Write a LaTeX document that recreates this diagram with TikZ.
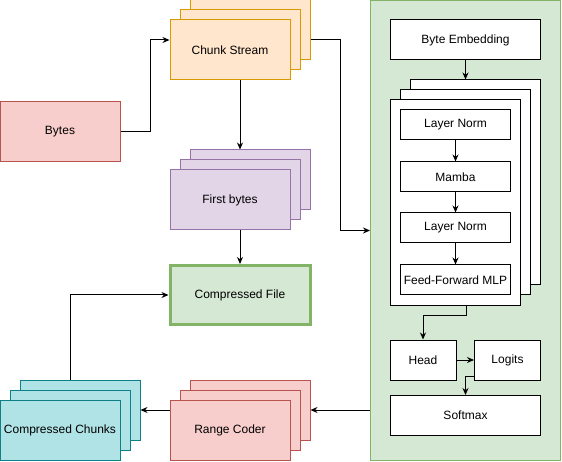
\documentclass[tikz,border=0pt]{standalone}
\usepackage{fontspec}
\setmainfont{Liberation Sans}
\usepackage{tikz}
\usetikzlibrary{arrows.meta}

\definecolor{orngfill}{HTML}{FFE6CC}
\definecolor{orngline}{HTML}{D79B00}
\definecolor{purpfill}{HTML}{E1D5E7}
\definecolor{purpline}{HTML}{9673A6}
\definecolor{redfill}{HTML}{F8CECC}
\definecolor{redline}{HTML}{B85450}
\definecolor{grnfill}{HTML}{D5E8D4}
\definecolor{grnline}{HTML}{82B366}
\definecolor{cyanfill}{HTML}{B0E3E6}
\definecolor{cyanline}{HTML}{0E8088}

\begin{document}
\begin{tikzpicture}[x=1pt, y=-1pt, font=\fontsize{12}{14}\selectfont,
  blk/.style={draw, line width=1pt, inner sep=0pt, minimum width=120pt, minimum height=60pt},
  orng/.style={blk, fill=orngfill, draw=orngline},
  purp/.style={blk, fill=purpfill, draw=purpline},
  redb/.style={blk, fill=redfill, draw=redline},
  cyan/.style={blk, fill=cyanfill, draw=cyanline},
  wbox/.style={draw, line width=1pt, fill=white, inner sep=0pt},
  layer/.style={wbox, minimum width=110pt, minimum height=30pt},
  stk/.style={wbox, minimum width=130pt, minimum height=205pt},
  arr/.style={draw, line width=1pt, -{Stealth[length=7pt,width=6pt]}}]

\useasboundingbox (0,0) rectangle (562,462);

\node[redb] (bytes) at (60,132) {Bytes};

\node[orng] (cs3) at (250,30) {};
\node[orng] (cs2) at (240,40) {};
\node[orng] (cs1) at (230,50) {Chunk Stream};

\node[purp] (fb3) at (250,180) {};
\node[purp] (fb2) at (240,190) {};
\node[purp] (fb1) at (230,200) {First bytes};

\node[draw=grnline, fill=grnfill, line width=3pt, inner sep=0pt, minimum width=140pt, minimum height=59pt] (cf) at (240,295) {Compressed File};

\node[redb] (rc3) at (250,410) {};
\node[redb] (rc2) at (240,420) {};
\node[redb] (rc1) at (230,430) {Range Coder};

\node[cyan] (cc3) at (80,410) {};
\node[cyan] (cc2) at (70,420) {};
\node[cyan] (cc1) at (60,430) {Compressed Chunks};

\node[draw=grnline, fill=grnfill, line width=1pt, inner sep=0pt, minimum width=190pt, minimum height=459pt] (model) at (465.5,230.5) {};

\node[wbox, minimum width=150pt, minimum height=40pt] (emb) at (465.5,40) {Byte Embedding};

\node[stk] (st3) at (475.5,182.5) {};
\node[stk] (st2) at (465.5,192.5) {};
\node[stk] (st1) at (455.5,202.5) {};

\node[layer] (ln1) at (455.5,125) {Layer Norm};
\node[layer] (mb) at (455.5,177) {Mamba};
\node[layer] (ln2) at (455.5,228) {Layer Norm};
\node[layer] (ff) at (455.5,280) {Feed-Forward MLP};

\node[wbox, minimum width=66pt, minimum height=40pt] (head) at (423,360) {Head};
\node[wbox, minimum width=66pt, minimum height=40pt] (lg) at (507.5,360) {Logits};
\node[wbox, minimum width=150pt, minimum height=40pt] (sm) at (465.5,415.5) {Softmax};

\path[arr] (bytes.east) -- ++(30,0) |- (cs1.west |- cs2.east);
\path[arr] (cs2.south |- cs1.south) -- (cs2.south |- fb3.north);
\path[arr] (fb2.south |- fb1.south) -- (cf.north);
\path[arr] (cs3.east |- cs2.east) -- ++(30,0) |- (model.west);

\path[arr] (emb.south) -- (emb.south |- st3.north);
\path[arr] (ln1) -- (mb);
\path[arr] (mb) -- (ln2);
\path[arr] (ln2) -- (ff);
\path[arr] ([xshift=11pt]st1.south) -- ++(0,10) -| (head.north);
\path[arr] (head) -- (lg);
\path[arr] ([yshift=-16pt]lg.west) -| (sm.north);

\path[arr] (model.west |- rc3.east) -- (rc3.east);
\path[arr] (rc1.west |- cc3.east) -- (cc3.east);
\path[arr] (cc2.north |- cc3.north) |- (cf.west);
\end{tikzpicture}
\end{document}
